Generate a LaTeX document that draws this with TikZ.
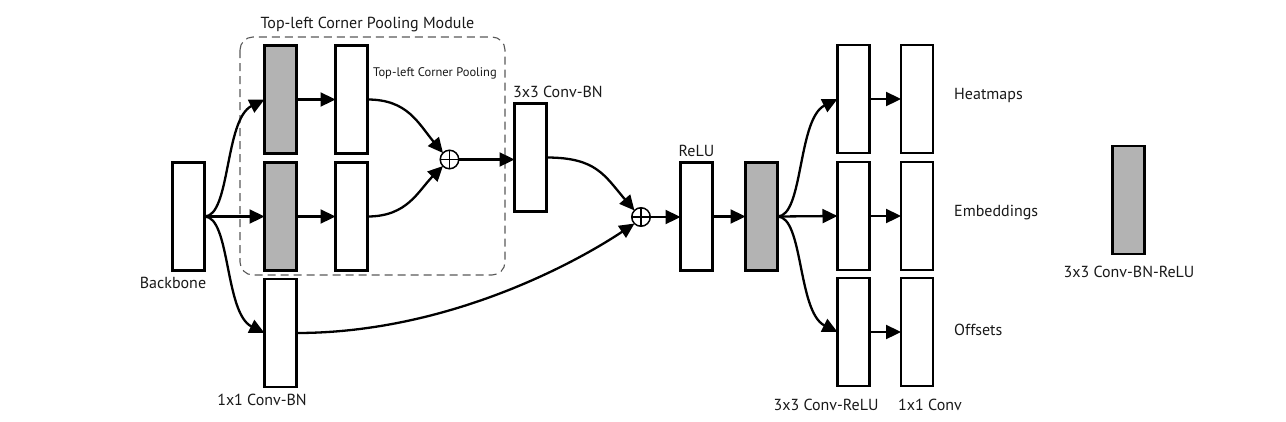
\documentclass[tikz,border=0pt]{standalone}
\usepackage{fontspec}
\setmainfont{PT Sans}
\usetikzlibrary{arrows.meta}
\definecolor{grayfill}{HTML}{B3B3B3}
\tikzset{
  blk/.style={draw=black, line width=2.8pt, fill=white, minimum width=32pt, minimum height=108pt, inner sep=0, outer sep=0},
  gblk/.style={blk, fill=grayfill},
  plusnode/.style={circle, draw=black, line width=1.5pt, minimum size=18.5pt, inner sep=0, outer sep=0,
    path picture={\draw[line width=1.5pt] (path picture bounding box.north) -- (path picture bounding box.south)
      (path picture bounding box.west) -- (path picture bounding box.east);}},
  arr/.style={line width=2.3pt, -{Triangle[length=15pt,width=14pt]}},
  lbl/.style={inner sep=0, font=\fontsize{16}{18}\selectfont, text=black!90},
  slbl/.style={inner sep=0, font=\fontsize{12.5}{14}\selectfont, text=black!90},
  modbox/.style={draw=black!65, line width=1.1pt, dash pattern=on 8pt off 5pt, rounded corners=13pt}
}
\begin{document}
\begin{tikzpicture}[x=1pt, y=-1pt]
\useasboundingbox (0,0) rectangle (1286,421);
% dashed module box
\draw[modbox] (240,37) rectangle (505,275);
\node[lbl] (modlbl) at (367.5,24) {Top-left Corner Pooling Module};
% blocks
\node[blk] (bb) at (188.5,216.5) {};
\node[gblk] (g1) at (280.5,99.5) {};
\node[gblk] (g2) at (280.5,216.5) {};
\node[blk] (w1) at (351.5,99.5) {};
\node[blk] (w2) at (351.5,216.5) {};
\node[plusnode] (p1) at (449.5,159.5) {};
\node[blk] (c3) at (530.5,157.5) {};
\node[blk] (c1) at (280.5,333) {};
\node[plusnode] (p2) at (641,217) {};
\node[blk] (relu) at (696.5,216.5) {};
\node[gblk] (g3) at (761.5,216.5) {};
\node[blk] (h1) at (853.5,99) {};
\node[blk] (e1) at (853.5,216) {};
\node[blk] (o1) at (853.5,332) {};
\node[blk] (h2) at (917,99) {};
\node[blk] (e2) at (917,216) {};
\node[blk] (o2) at (917,332) {};
\node[gblk] (leg) at (1128.5,200) {};
% labels
\node[slbl, anchor=west] (tlcp) at (373,73) {Top-left Corner Pooling};
\node[lbl, anchor=west] (c3lbl) at (513,92) {3x3 Conv-BN};
\node[lbl] (relulbl) at (696.5,151) {ReLU};
\node[lbl] (bblbl) at (173,283) {Backbone};
\node[lbl] (c1lbl) at (262,400) {1x1 Conv-BN};
\node[lbl] (crlbl) at (826,405) {3x3 Conv-ReLU};
\node[lbl] (cvlbl) at (930,405) {1x1 Conv};
\node[lbl, anchor=west] (hm) at (954,95) {Heatmaps};
\node[lbl, anchor=west] (em) at (954,213) {Embeddings};
\node[lbl, anchor=west] (of) at (954,330) {Offsets};
\node[lbl] (leglbl) at (1129,272) {3x3 Conv-BN-ReLU};
% connectors
\draw[arr] (bb.east) .. controls +(26,0) and +(-40,20) .. (g1.west);
\draw[arr] (bb.east) -- (g2.west);
\draw[arr] (bb.east) .. controls +(26,0) and +(-40,-20) .. (c1.west);
\draw[arr] (g1.east) -- (w1.west);
\draw[arr] (g2.east) -- (w2.west);
\draw[arr] (w1.east) .. controls +(40,0) and +(-25,-30) .. (p1.north west);
\draw[arr] (w2.east) .. controls +(40,0) and +(-25,25) .. (p1.south west);
\draw[arr] (p1.east) -- (p1.east -| c3.west);
\draw[arr] (c3.east) .. controls +(50,0) and +(-30,-35) .. (p2.north west);
\draw[arr] (c1.east) .. controls +(150,0) and +(-60,40) .. (p2.south west);
\draw[arr] (p2.east) -- (p2.east -| relu.west);
\draw[arr] (relu.east) -- (g3.west);
\draw[arr] (g3.east) .. controls +(26,0) and +(-40,20) .. (h1.west);
\draw[arr] (g3.east) -- (e1.west);
\draw[arr] (g3.east) .. controls +(26,0) and +(-40,-20) .. (o1.west);
\draw[arr] (h1.east) -- (h2.west);
\draw[arr] (e1.east) -- (e2.west);
\draw[arr] (o1.east) -- (o2.west);
\end{tikzpicture}
\end{document}
